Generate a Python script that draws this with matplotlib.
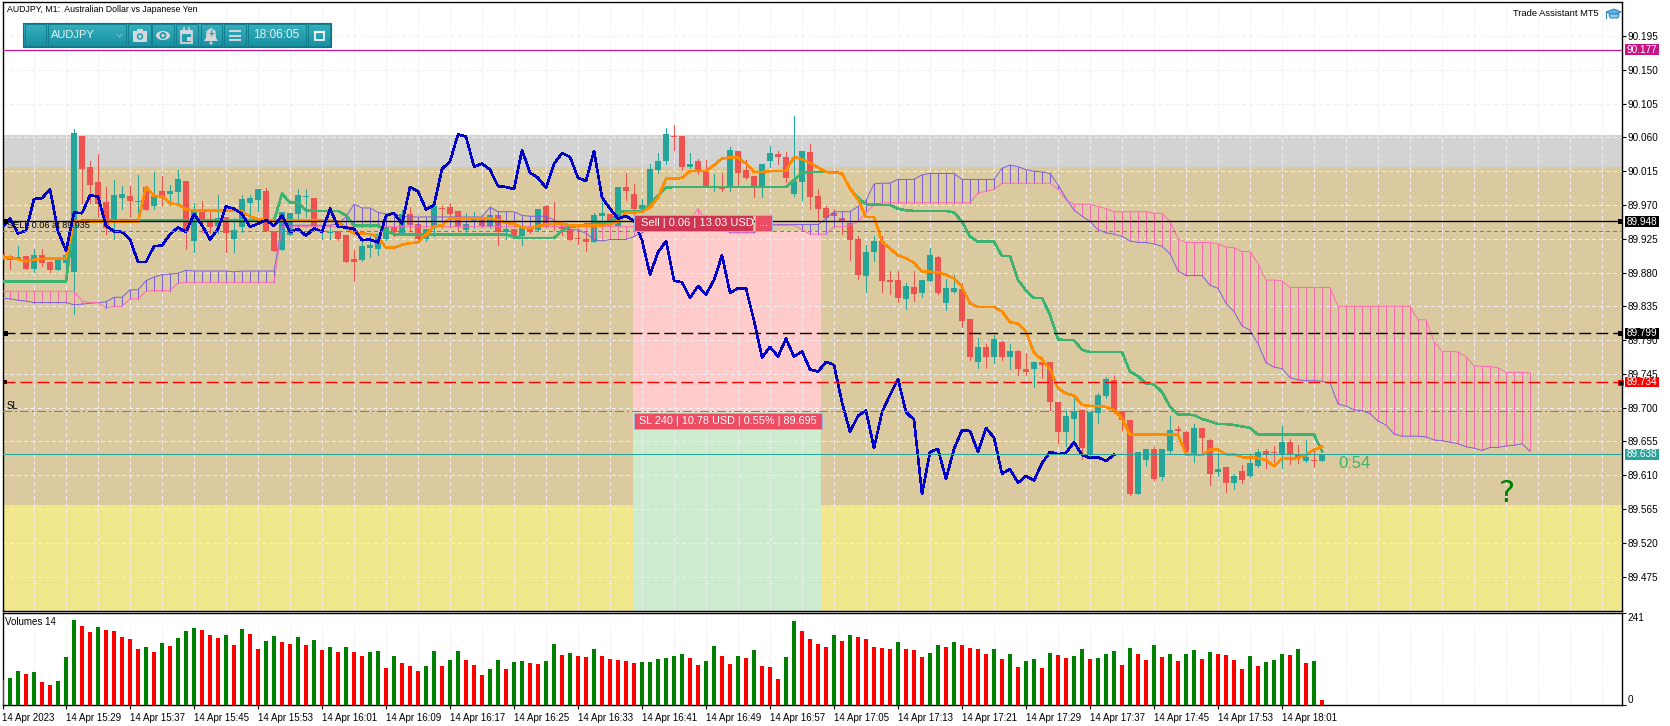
import numpy as np
import matplotlib
matplotlib.use("Agg")
import matplotlib.pyplot as plt
from matplotlib.patches import Rectangle, Circle, Polygon, Ellipse

plt.rcParams['font.family'] = ['Liberation Sans', 'DejaVu Sans']

# ------------------------------------------------------------------ data
opens = [
89.905,89.902,89.898,89.902,89.885,89.903,89.894,89.883,89.893,89.881,
90.062,90.020,90.001,89.974,89.950,89.979,89.982,89.974,89.994,89.968,
89.988,89.984,89.987,90.002,89.922,89.963,89.948,89.942,89.954,89.924,
89.941,89.972,89.976,89.988,89.935,89.910,89.930,89.958,89.980,89.979,
89.934,89.933,89.935,89.930,89.898,89.897,89.913,89.911,89.924,89.941,
89.931,89.958,89.945,89.924,89.941,89.966,89.967,89.962,89.937,89.947,
89.950,89.941,89.956,89.934,89.938,89.929,89.941,89.937,89.968,89.941,
89.941,89.938,89.926,89.924,89.920,89.955,89.958,89.942,89.994,89.985,
89.964,89.968,90.016,90.028,90.062,90.062,90.021,90.029,90.014,89.993,
89.992,89.993,90.042,90.017,90.009,89.993,90.028,90.038,90.034,89.985,
90.001,90.041,89.982,89.966,89.959,89.953,89.946,89.924,89.875,89.907,
89.922,89.870,89.870,89.845,89.861,89.853,89.869,89.901,89.839,89.854,
89.858,89.818,89.761,89.781,89.768,89.787,89.768,89.776,89.752,89.751,
89.761,89.761,89.708,89.668,89.685,89.697,89.638,89.693,89.716,89.737,
89.696,89.684,89.585,89.630,89.645,89.607,89.642,89.671,89.668,89.638,
89.673,89.657,89.614,89.621,89.600,89.616,89.609,89.622,89.642,89.641,
89.638,89.654,89.638,89.629,89.630,89.629]
highs = [
89.908,89.904,89.915,89.902,89.911,89.911,89.896,89.897,89.920,90.071,
90.062,90.028,90.038,89.994,90.003,89.995,89.995,90.010,89.995,90.014,
90.008,89.996,90.016,90.002,89.972,89.975,89.961,89.983,89.954,89.952,
89.983,89.983,89.991,89.992,89.935,89.960,89.959,89.991,89.991,89.979,
89.941,89.942,89.935,89.930,89.910,89.920,89.930,89.931,89.940,89.941,
89.963,89.967,89.945,89.938,89.981,89.968,89.972,89.962,89.959,89.960,
89.956,89.967,89.956,89.948,89.938,89.941,89.941,89.965,89.970,89.974,
89.941,89.938,89.938,89.934,89.959,89.974,89.958,89.994,90.012,89.998,
89.978,90.025,90.039,90.072,90.077,90.062,90.039,90.031,90.030,90.011,
90.012,90.047,90.042,90.030,90.009,90.025,90.049,90.042,90.040,90.089,
90.042,90.051,89.991,89.969,89.965,89.953,89.946,89.929,89.917,89.929,
89.928,89.882,89.882,89.866,89.882,89.870,89.912,89.902,89.871,89.877,
89.866,89.818,89.793,89.785,89.797,89.789,89.785,89.777,89.773,89.761,
89.768,89.761,89.708,89.697,89.717,89.698,89.694,89.719,89.741,89.742,
89.696,89.684,89.641,89.645,89.648,89.645,89.689,89.675,89.669,89.678,
89.673,89.658,89.640,89.621,89.612,89.624,89.638,89.645,89.645,89.649,
89.676,89.658,89.650,89.657,89.645,89.637]
lows = [
89.895,89.885,89.898,89.885,89.881,89.889,89.881,89.883,89.881,89.825,
89.972,89.972,89.954,89.931,89.925,89.964,89.954,89.950,89.963,89.965,
89.970,89.970,89.972,89.911,89.908,89.934,89.932,89.932,89.908,89.908,
89.934,89.950,89.962,89.935,89.909,89.910,89.930,89.950,89.954,89.939,
89.925,89.925,89.923,89.894,89.869,89.896,89.901,89.903,89.923,89.928,
89.930,89.937,89.922,89.922,89.928,89.954,89.954,89.937,89.934,89.939,
89.941,89.939,89.916,89.925,89.928,89.916,89.932,89.936,89.940,89.937,
89.930,89.923,89.918,89.909,89.920,89.950,89.937,89.941,89.976,89.954,
89.963,89.968,90.012,90.025,90.043,90.017,90.019,90.011,89.995,89.989,
89.989,89.989,89.995,90.005,89.980,89.980,90.020,90.025,90.001,89.982,
89.977,89.965,89.948,89.946,89.943,89.931,89.897,89.872,89.854,89.895,
89.854,89.851,89.841,89.832,89.842,89.848,89.869,89.852,89.830,89.853,
89.808,89.764,89.753,89.753,89.760,89.763,89.751,89.744,89.743,89.728,
89.739,89.697,89.653,89.649,89.653,89.631,89.635,89.680,89.713,89.693,
89.670,89.583,89.585,89.622,89.604,89.604,89.638,89.664,89.638,89.628,
89.638,89.597,89.609,89.587,89.592,89.599,89.608,89.621,89.620,89.628,
89.620,89.625,89.626,89.628,89.621,89.629]
closes = [
89.897,89.897,89.901,89.885,89.903,89.893,89.883,89.897,89.904,90.066,
90.018,89.996,89.971,89.939,89.983,89.984,89.975,89.975,89.963,89.982,
89.979,89.988,90.004,89.934,89.965,89.948,89.940,89.952,89.932,89.936,
89.978,89.979,89.991,89.935,89.909,89.960,89.959,89.983,89.981,89.942,
89.935,89.934,89.924,89.894,89.894,89.915,89.916,89.931,89.940,89.934,
89.958,89.943,89.924,89.938,89.968,89.965,89.958,89.941,89.945,89.950,
89.942,89.956,89.934,89.938,89.929,89.939,89.934,89.965,89.941,89.940,
89.938,89.923,89.924,89.920,89.956,89.959,89.945,89.994,89.988,89.964,
89.970,90.018,90.028,90.064,90.061,90.021,90.025,90.017,89.995,89.994,
89.991,90.043,90.013,90.006,89.993,90.025,90.039,90.034,90.006,90.002,
90.042,89.980,89.965,89.952,89.955,89.949,89.923,89.877,89.907,89.922,
89.869,89.867,89.846,89.862,89.851,89.870,89.903,89.853,89.859,89.859,
89.816,89.767,89.781,89.768,89.792,89.768,89.775,89.751,89.748,89.761,
89.757,89.707,89.668,89.689,89.696,89.646,89.694,89.717,89.738,89.694,
89.684,89.585,89.641,89.645,89.605,89.645,89.670,89.669,89.641,89.673,
89.660,89.612,89.618,89.600,89.609,89.603,89.626,89.641,89.638,89.640,
89.654,89.637,89.633,89.634,89.629,89.637]
tenkan = [
89.900,89.900,89.898,89.895,89.897,89.898,89.899,89.899,89.899,89.948,
89.948,89.948,89.948,89.948,89.948,89.948,89.948,89.948,89.994,89.982,
89.982,89.972,89.971,89.964,89.963,89.963,89.963,89.963,89.963,89.963,
89.961,89.955,89.951,89.950,89.950,89.950,89.950,89.950,89.950,89.950,
89.950,89.950,89.948,89.939,89.932,89.932,89.931,89.928,89.913,89.913,
89.917,89.919,89.920,89.930,89.941,89.943,89.952,89.952,89.952,89.952,
89.952,89.952,89.950,89.946,89.945,89.940,89.939,89.942,89.944,89.945,
89.945,89.943,89.943,89.943,89.943,89.943,89.944,89.948,89.960,89.960,
89.961,89.967,89.980,90.005,90.005,90.006,90.015,90.015,90.015,90.023,
90.032,90.033,90.033,90.025,90.014,90.014,90.015,90.015,90.015,90.034,
90.031,90.026,90.020,90.014,90.013,90.012,89.992,89.977,89.954,89.954,
89.921,89.912,89.903,89.899,89.893,89.881,89.881,89.880,89.877,89.872,
89.861,89.839,89.834,89.834,89.834,89.828,89.814,89.812,89.801,89.773,
89.764,89.751,89.726,89.719,89.716,89.704,89.702,89.702,89.701,89.697,
89.686,89.664,89.664,89.664,89.664,89.664,89.664,89.664,89.638,89.637,
89.637,89.644,89.644,89.638,89.638,89.634,89.634,89.633,89.630,89.622,
89.632,89.632,89.633,89.637,89.644,89.648]
kijun = [
89.868,89.868,89.868,89.868,89.868,89.868,89.868,89.868,89.868,89.948,
89.949,89.949,89.949,89.949,89.949,89.949,89.949,89.949,89.949,89.949,
89.949,89.949,89.949,89.949,89.949,89.949,89.949,89.949,89.949,89.949,
89.949,89.949,89.949,89.949,89.949,89.985,89.973,89.973,89.963,89.962,
89.962,89.962,89.962,89.956,89.943,89.943,89.943,89.943,89.936,89.931,
89.931,89.931,89.931,89.931,89.931,89.931,89.931,89.931,89.931,89.931,
89.931,89.931,89.931,89.931,89.927,89.926,89.926,89.926,89.926,89.926,
89.936,89.941,89.942,89.944,89.945,89.945,89.945,89.961,89.962,89.962,
89.962,89.970,89.983,89.993,89.994,89.994,89.994,89.994,89.994,89.994,
89.994,89.994,89.994,89.994,89.994,89.994,89.994,89.994,89.994,90.003,
90.013,90.014,90.014,90.014,90.014,90.012,89.992,89.979,89.971,89.971,
89.970,89.970,89.965,89.963,89.962,89.962,89.962,89.962,89.962,89.960,
89.948,89.928,89.921,89.921,89.921,89.902,89.902,89.870,89.856,89.846,
89.846,89.824,89.791,89.790,89.790,89.777,89.774,89.774,89.774,89.774,
89.774,89.748,89.742,89.732,89.731,89.721,89.701,89.691,89.691,89.690,
89.685,89.682,89.678,89.678,89.677,89.675,89.673,89.664,89.664,89.664,
89.664,89.664,89.664,89.664,89.664,89.642]
senkou_a = [
89.846,89.845,89.843,89.842,89.840,89.840,89.840,89.840,89.840,89.837,
89.838,89.839,89.840,89.841,89.847,89.847,89.857,89.857,89.869,89.874,
89.877,89.878,89.879,89.883,89.882,89.882,89.882,89.882,89.882,89.881,
89.882,89.882,89.882,89.882,89.882,89.945,89.943,89.943,89.943,89.943,
89.943,89.943,89.945,89.954,89.971,89.966,89.966,89.960,89.958,89.958,
89.955,89.954,89.954,89.954,89.954,89.954,89.954,89.954,89.954,89.954,
89.954,89.967,89.961,89.961,89.961,89.956,89.955,89.955,89.955,89.950,
89.942,89.937,89.937,89.932,89.924,89.922,89.924,89.924,89.924,89.928,
89.933,89.940,89.945,89.945,89.945,89.945,89.945,89.945,89.940,89.940,
89.940,89.933,89.933,89.933,89.933,89.940,89.944,89.944,89.944,89.944,
89.944,89.944,89.944,89.952,89.961,89.961,89.961,89.968,89.976,89.998,
89.999,89.999,90.004,90.004,90.004,90.010,90.012,90.012,90.012,90.012,
90.004,90.004,90.004,90.004,90.004,90.019,90.023,90.021,90.017,90.015,
90.014,90.012,89.997,89.979,89.963,89.955,89.948,89.937,89.933,89.931,
89.928,89.922,89.920,89.920,89.918,89.915,89.905,89.882,89.876,89.876,
89.876,89.863,89.859,89.839,89.828,89.809,89.803,89.785,89.760,89.754,
89.752,89.740,89.737,89.736,89.736,89.735,89.733,89.705,89.702,89.697,
89.696,89.692,89.682,89.677,89.665,89.662,89.662,89.662,89.661,89.657,
89.656,89.654,89.652,89.648,89.646,89.643,89.647,89.647,89.649,89.650,
89.652,89.642]
senkou_b = [
89.855,89.855,89.855,89.855,89.855,89.855,89.855,89.855,89.855,89.855,
89.842,89.840,89.840,89.833,89.835,89.835,89.845,89.845,89.855,89.856,
89.856,89.856,89.866,89.867,89.867,89.867,89.867,89.867,89.867,89.867,
89.867,89.867,89.867,89.867,89.867,89.941,89.941,89.941,89.941,89.941,
89.941,89.941,89.941,89.941,89.941,89.941,89.941,89.941,89.941,89.941,
89.941,89.941,89.941,89.941,89.941,89.941,89.941,89.941,89.941,89.941,
89.941,89.941,89.941,89.941,89.941,89.941,89.941,89.941,89.941,89.941,
89.941,89.941,89.941,89.941,89.941,89.941,89.941,89.941,89.941,89.941,
89.941,89.941,89.941,89.941,89.941,89.941,89.950,89.965,89.950,89.942,
89.942,89.934,89.934,89.934,89.934,89.940,89.943,89.943,89.943,89.943,
89.937,89.931,89.931,89.931,89.941,89.941,89.943,89.948,89.960,89.970,
89.973,89.973,89.973,89.973,89.973,89.973,89.973,89.973,89.973,89.973,
89.973,89.973,89.986,89.988,89.991,89.999,89.999,89.999,89.999,89.999,
89.999,89.999,89.991,89.977,89.971,89.971,89.971,89.968,89.965,89.961,
89.961,89.961,89.961,89.961,89.959,89.959,89.948,89.925,89.920,89.920,
89.920,89.920,89.918,89.914,89.913,89.908,89.908,89.892,89.870,89.870,
89.869,89.860,89.860,89.860,89.860,89.860,89.860,89.835,89.835,89.835,
89.835,89.835,89.835,89.835,89.835,89.835,89.835,89.817,89.817,89.788,
89.775,89.775,89.774,89.768,89.756,89.755,89.755,89.753,89.747,89.747,
89.747,89.746]
volumes = [
65,70,89,81,86,60,52,63,125,222,
206,190,204,196,193,177,172,146,151,138,
162,154,175,193,201,196,183,175,183,157,
198,185,146,167,180,164,159,177,157,170,
144,151,138,151,138,128,138,141,97,128,
110,102,89,102,141,102,117,141,117,104,
78,94,117,94,112,115,110,107,115,159,
130,136,128,125,146,128,120,117,115,110,
112,113,120,123,128,133,123,104,115,154,
128,107,128,123,144,102,99,68,125,219,
193,172,159,151,183,167,183,177,172,151,
149,148,164,146,145,125,136,157,151,164,
157,149,148,133,146,120,133,99,115,120,
97,136,130,123,128,146,120,123,133,141,
104,149,133,117,157,125,133,115,133,144,
120,138,133,132,117,94,128,102,112,117,
133,132,146,110,115,13]
time_labels = ['14 Apr 2023','14 Apr 15:29','14 Apr 15:37','14 Apr 15:45','14 Apr 15:53','14 Apr 16:01',
               '14 Apr 16:09','14 Apr 16:17','14 Apr 16:25','14 Apr 16:33','14 Apr 16:41','14 Apr 16:49',
               '14 Apr 16:57','14 Apr 17:05','14 Apr 17:13','14 Apr 17:21','14 Apr 17:29','14 Apr 17:37',
               '14 Apr 17:45','14 Apr 17:53','14 Apr 18:01']
price_ticks = [90.195,90.150,90.105,90.060,90.015,89.970,89.925,89.880,89.835,89.790,
               89.745,89.700,89.655,89.610,89.565,89.520,89.475]
level_high = 90.177
level_sell_line = 89.948
level_dash = 89.799
level_red = 89.734
level_sl = 89.695
level_entry = 89.935
level_bid = 89.638
zone_grey = (90.063, 90.0206)
zone_tan = (90.0206, 89.570)

assert all(len(a) == 166 for a in (opens, highs, lows, closes, tenkan, kijun, volumes))
assert len(senkou_a) == 192 and len(senkou_b) == 192

# ------------------------------------------------------------------ layout
W, H = 1670, 726
fig = plt.figure(figsize=(W/100, H/100), dpi=100, facecolor='white')
def box(l, t, r, b):
    return [l/W, 1-b/H, (r-l)/W, (b-t)/H]
ax = fig.add_axes(box(2.5, 2, 1622, 611))
axv = fig.add_axes(box(2.5, 613, 1622, 705))
ui = fig.add_axes([0, 0, 1, 1], zorder=20)
ui.set_xlim(0, W); ui.set_ylim(H, 0); ui.axis('off'); ui.patch.set_alpha(0)

y_top = 90.243 - 0.001332*2
y_bot = 90.243 - 0.001332*611
x_l = 0.06
x_r = 202.5
for a in (ax, axv):
    a.set_xlim(x_l, x_r)
    for s in a.spines.values():
        s.set_linewidth(1.0); s.set_color('black')
ax.set_ylim(y_bot, y_top)
axv.set_ylim(0, 241)

# zones
ax.axhspan(zone_grey[1], zone_grey[0], color='#D3D3D3', lw=0, zorder=0)
ax.axhspan(zone_tan[1], zone_tan[0], color='#DBCA9F', lw=0, zorder=0)
ax.axhspan(y_bot, zone_tan[1], color='#F0E68C', lw=0, zorder=0)
# trade box (time span of the position)
t0, t1 = 78.9, 102.4
ax.add_patch(Rectangle((t0, level_sl), t1-t0, level_entry-level_sl, fc='#FFCBCB', lw=0, zorder=0.5))
ax.add_patch(Rectangle((t0, y_bot), t1-t0, level_sl-y_bot, fc='#CDEBCE', lw=0, zorder=0.5))

# grid
grid_kw = dict(color='#F1EEF1', lw=0.72, ls=(0, (3.5, 3.5)), zorder=1, antialiased=False)
for tk in price_ticks:
    ax.axhline(tk, **grid_kw)
for gx in range(0, 204, 4):
    ax.axvline(gx, **grid_kw)
    axv.axvline(gx, **grid_kw)

# candles
idx = np.arange(len(opens))
o, h, l, c = map(np.array, (opens, highs, lows, closes))
up = c >= o
col = np.where(up, '#26A69A', '#EF5350')
ax.vlines(idx, l, h, colors=col, lw=0.5, zorder=3, antialiased=False)
ax.bar(idx, np.maximum(np.abs(c-o), 0.0015), bottom=np.minimum(o, c), width=0.7, color=col, lw=0, zorder=3.1, antialiased=False)

# Ichimoku cloud
ca = np.arange(len(senkou_a))
sa, sb = np.array(senkou_a), np.array(senkou_b)
ax.vlines(ca, np.minimum(sa, sb), np.maximum(sa, sb),
          colors=np.where(sb > sa, '#FF69B4', '#7B60DC'), lw=0.5, zorder=4, antialiased=False)
ax.plot(ca, sa, color='#7B60DC', lw=0.7, zorder=4.1)
ax.plot(ca, sb, color='#FF69B4', lw=0.7, zorder=4.1)

# tenkan / kijun / chikou
line_kw = dict(lw=1.15, solid_joinstyle='round', antialiased=False)
ax.plot(idx, kijun, color='#3CB371', zorder=5, **line_kw)
ax.plot(idx, tenkan, color='#FF8C00', zorder=5.1, **line_kw)
chikou = closes[26:]
ax.plot(np.arange(len(chikou)), chikou, color='#0000CD', zorder=5.2, **line_kw)

# horizontal levels
ax.axhline(level_entry, color='#26A69A', lw=0.72, ls=(0, (3.5, 3.5)), zorder=6, antialiased=False)
ax.axhline(level_sl, color='#E8504A', lw=0.72, ls=(0, (9, 3, 2, 3)), zorder=6, antialiased=False)
ax.axhline(level_bid, color='#26A69A', lw=0.72, zorder=6, antialiased=False)
ax.axhline(level_high, color='#C71585', lw=0.85, zorder=6)
ax.axhline(level_sell_line, color='black', lw=0.95, zorder=6.2)
ax.axhline(level_dash, color='black', lw=1.0, ls=(0, (8.6, 3.6)), zorder=6.2)
ax.axhline(level_red, color='#FF0000', lw=1.0, ls=(0, (8.6, 3.6)), zorder=6.2)

# axes ticks
ax.set_xticks([])
ax.yaxis.tick_right()
ax.set_yticks(price_ticks)
ax.set_yticklabels([f'{t:.3f}' for t in price_ticks], fontsize=7.2, color='black')
ax.tick_params(axis='y', length=3, width=0.8, pad=1.0)

axv.set_yticks([0, 241])
axv.yaxis.tick_right()
axv.set_yticklabels(['0', '241'], fontsize=7.2)
axv.tick_params(axis='y', length=3, width=0.8, pad=1.0)
labs = axv.get_yticklabels()
labs[0].set_va('bottom'); labs[1].set_va('top')

vol = np.array(volumes)
vcol = ['#FF0000'] + ['#008000' if vol[i] > vol[i-1] else '#FF0000' for i in range(1, len(vol))]
axv.bar(idx, vol, width=0.5, color=vcol, lw=0, zorder=3, antialiased=False)
axv.set_xticks(np.arange(0, 8*len(time_labels), 8))
axv.set_xticklabels(time_labels, fontsize=7.0, ha='left')
axv.tick_params(axis='x', length=3, width=0.8, pad=2.5)

# ------------------------------------------------------------------ price tags
def tag(price, text, fc):
    yy = ax.transData.transform((0, price))[1]
    ypx = H - yy
    ui.add_patch(Rectangle((1625, ypx-5.3), 34, 10.6, fc=fc, lw=0, zorder=5))
    ui.text(1642, ypx+0.1, text, color='white', fontsize=7.2, ha='center', va='center', zorder=6)
    return ypx
tag(level_high, '90.177', '#C71585')
y_s = tag(level_sell_line, '89.948', 'black')
y_d = tag(level_dash, '89.799', 'black')
y_r = tag(level_red, '89.734', '#FF0000')
tag(level_bid, '89.638', '#26A69A')
for yy_, fc in ((y_s, 'black'), (y_d, 'black')):
    ui.add_patch(Rectangle((1617.5, yy_-2.5), 5, 5, fc=fc, lw=0))
    ui.add_patch(Rectangle((3, yy_-2.5), 5, 5, fc=fc, lw=0))
ui.add_patch(Rectangle((1617.5, y_r-2.5), 5, 5, fc='black', ec='#FF0000', lw=0.7))
ui.add_patch(Rectangle((3, y_r-2), 4, 4, fc='#3A0000', lw=0))

# texts on chart
ui.text(7, 10, 'AUDJPY, M1:  Australian Dollar vs Japanese Yen', fontsize=6.35, va='center', color='black')
ui.text(1599, 14, 'Trade Assistant MT5', fontsize=6.75, va='center', ha='right', color='black')
ui.text(7, 226, 'SELL 0.06 at 89.935', fontsize=6.6, va='center', color='black')
ui.text(7, 406, 'SL', fontsize=7.0, va='center', color='black')
ui.text(5, 622, 'Volumes 14', fontsize=7.0, va='center', color='black')
ui.text(1338, 463, '0:54', fontsize=12, va='center', color='#3CB371')
ui.text(1507, 493, '?', fontsize=22, va='center', ha='center', color='#008000', family='DejaVu Sans')

# graduation cap icon
ui.add_patch(Polygon([(1606, 12), (1614, 9), (1621, 12), (1614, 15)], fc='#5BB2E6', ec='#2F7FB8', lw=0.7))
ui.add_patch(Polygon([(1609, 14), (1619, 14), (1618, 18), (1610, 18)], fc='#8CCBEF', ec='#2F7FB8', lw=0.7))
ui.plot([1606, 1606], [12, 18], color='#2F7FB8', lw=0.8)

# trade labels
def label(x0, x1, y0, y1, fc, text, ha='left', tx=None, fs=8.0):
    ui.add_patch(Rectangle((x0, y0), x1-x0, y1-y0, fc=fc, ec='#9FB2E0', lw=0.7, zorder=7))
    ui.text(tx if tx else x0+7, (y0+y1)/2, text, color='white', fontsize=fs, va='center', ha=ha, zorder=8)
label(633.5, 753, 215, 231, '#CF3550', 'Sell | 0.06 | 13.03 USD', tx=641)
label(755, 771.5, 215, 231, '#EC4D62', '...', ha='center', tx=763)
label(633.5, 821.5, 413, 429, '#EC4D62', 'SL 240 | 10.78 USD | 0.55% | 89.695', tx=639, fs=7.8)

# toolbar
grad = np.linspace(0, 1, 24)[:, None, None]
ctop, cbot = np.array([0x36, 0xB0, 0xBE])/255, np.array([0x18, 0x90, 0xA2])/255
ui.imshow(ctop*(1-grad)+cbot*grad, extent=(23, 331, 47, 23), aspect='auto', zorder=1, interpolation='bilinear')
ui.set_xlim(0, W); ui.set_ylim(H, 0)
ui.add_patch(Rectangle((23, 23), 308, 24, fc='none', ec='#0E7484', lw=0.8, zorder=2))
for b0, b1 in [(24.5, 46), (48, 126), (128, 151), (152, 174), (176, 198), (200.5, 222), (224, 246), (248, 306), (308, 330)]:
    ui.add_patch(Rectangle((b0, 24.2), b1-b0, 21.6, fc='none', ec='#127E8E', lw=0.7, zorder=2))
ui.text(51, 35.5, 'AUDJPY', color='#E2F2F4', fontsize=8.0, va='center', zorder=3)
ui.plot([117, 119.5, 122], [34.5, 37, 34.5], color='#6FB9C4', lw=0.8, zorder=3)
ui.text(276.5, 35.5, '18:06:05', color='#E2F2F4', fontsize=8.6, va='center', ha='center', zorder=3)
ic = '#D5D8DA'
# camera
ui.add_patch(Rectangle((133, 31), 14, 11, fc=ic, lw=0, zorder=3))
ui.add_patch(Rectangle((136.5, 29), 6, 2.5, fc=ic, lw=0, zorder=3))
ui.add_patch(Circle((140, 36.5), 3.2, fc='#1F9CAC', lw=0, zorder=4))
ui.add_patch(Circle((140, 36.5), 1.7, fc=ic, lw=0, zorder=5))
# eye
ui.add_patch(Ellipse((163, 35.5), 14, 9, fc=ic, lw=0, zorder=3))
ui.add_patch(Circle((163, 35.5), 3.4, fc='#1F9CAC', lw=0, zorder=4))
ui.add_patch(Circle((163, 35.5), 1.6, fc=ic, lw=0, zorder=5))
# calendar
ui.add_patch(Rectangle((181, 30.5), 11, 12, fc='none', ec=ic, lw=1.3, zorder=3))
ui.add_patch(Rectangle((181, 30), 11, 3.5, fc=ic, lw=0, zorder=3))
ui.add_patch(Rectangle((187, 37), 3.5, 3.5, fc=ic, lw=0, zorder=3))
ui.plot([184, 184], [28, 31], color=ic, lw=1.2, zorder=3)
ui.plot([189, 189], [28, 31], color=ic, lw=1.2, zorder=3)
# bell
ui.add_patch(Polygon([(211, 28), (215.5, 31), (216, 38), (218, 41), (204, 41), (206, 38), (206.5, 31)], fc=ic, lw=0, zorder=3))
ui.add_patch(Circle((211, 43), 1.5, fc=ic, lw=0, zorder=3))
ui.text(211, 34.5, '+', color='#1F9CAC', fontsize=7, ha='center', va='center', zorder=4, fontweight='bold')
# menu
for yy_ in (31, 35.5, 40):
    ui.plot([229, 241], [yy_, yy_], color=ic, lw=1.4, zorder=3, solid_capstyle='butt')
# window
ui.add_patch(Rectangle((315, 31.5), 8.5, 8.5, fc='none', ec='white', lw=1.2, zorder=3))
ui.plot([315, 323.5], [32.3, 32.3], color='white', lw=1.6, zorder=3)

fig.savefig('out.png', dpi=100)
